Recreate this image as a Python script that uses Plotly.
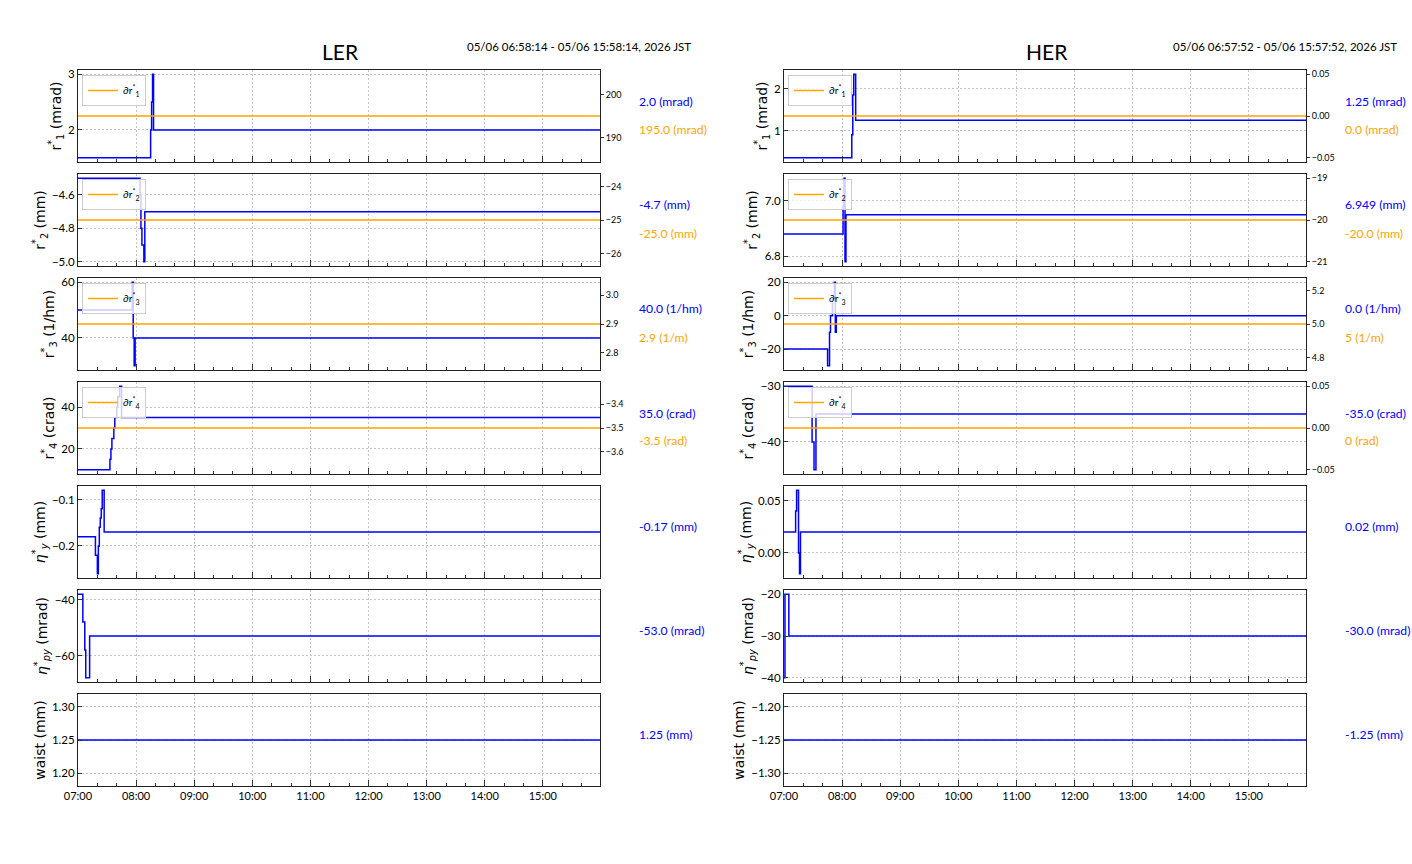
import plotly.graph_objects as go

W, H = 1412, 864
DAY = "2026-05-06 "
X_START, X_END = "07:00", "15:59"

# ---------------- LER data ----------------
ler_r1_t = ["07:00", "08:15", "08:16", "08:17", "08:18", "15:59"]
ler_r1_v = [1.5, 2.0, 2.5, 3.0, 2.0, 2.0]
ler_r2_t = ["07:00", "08:04", "08:05", "08:06", "08:08", "08:09", "15:59"]
ler_r2_v = [-4.5, -4.6, -4.8, -4.9, -5.0, -4.7, -4.7]
ler_r3_t = ["07:00", "07:56", "07:57", "07:58", "07:59", "15:59"]
ler_r3_v = [50, 60, 40, 30, 40, 40]
ler_r4_t = ["07:00", "07:33", "07:34", "07:35", "07:37", "07:38", "07:40", "07:41", "07:43", "07:45", "15:59"]
ler_r4_v = [10, 15, 20, 25, 30, 35, 40, 45, 50, 35, 35]
ler_ny_t = ["07:00", "07:18", "07:20", "07:21", "07:22", "07:23", "07:24", "07:25", "07:27", "15:59"]
ler_ny_v = [-0.18, -0.22, -0.26, -0.20, -0.16, -0.14, -0.12, -0.08, -0.17, -0.17]
ler_npy_t = ["07:00", "07:05", "07:07", "07:08", "07:12", "15:59"]
ler_npy_v = [-38, -48, -58, -68, -53, -53]
ler_waist_t = ["07:00", "15:59"]
ler_waist_v = [1.25, 1.25]
ler_dr = [195.0, -25.0, 2.9, -3.5]          # orange reference values (right axis)
ler_cur_labels = ["2.0 (mrad)", "-4.7 (mm)", "40.0 (1/hm)", "35.0 (crad)",
                  "-0.17 (mm)", "-53.0 (mrad)", "1.25 (mm)"]
ler_dr_labels = ["195.0 (mrad)", "-25.0 (mm)", "2.9 (1/m)", "-3.5 (rad)"]
ler_period = "05/06 06:58:14 - 05/06 15:58:14, 2026 JST"

# ---------------- HER data ----------------
her_r1_t = ["07:00", "08:10", "08:11", "08:12", "08:14", "15:59"]
her_r1_v = [0.35, 0.9, 1.85, 2.35, 1.25, 1.25]
her_r2_t = ["07:00", "08:01", "08:02", "08:03", "08:04", "15:59"]
her_r2_v = [6.88, 6.98, 7.08, 6.78, 6.949, 6.949]
her_r3_t = ["07:00", "07:45", "07:47", "07:48", "07:50", "07:52", "07:53", "07:54", "15:59"]
her_r3_v = [-20, -30, -10, 0, 10, 20, -10, 0, 0]
her_r4_t = ["07:00", "07:29", "07:31", "07:33", "15:59"]
her_r4_v = [-30, -40, -45, -35, -35]
her_ny_t = ["07:00", "07:12", "07:13", "07:15", "07:16", "07:17", "15:59"]
her_ny_v = [0.02, 0.04, 0.06, 0.0, -0.02, 0.02, 0.02]
her_npy_t = ["07:00", "07:01", "07:05", "15:59"]
her_npy_v = [-40, -20, -30, -30]
her_waist_t = ["07:00", "15:59"]
her_waist_v = [-1.25, -1.25]
her_dr = [0.0, -20.0, 5.0, 0.0]
her_cur_labels = ["1.25 (mrad)", "6.949 (mm)", "0.0 (1/hm)", "-35.0 (crad)",
                  "0.02 (mm)", "-30.0 (mrad)", "-1.25 (mm)"]
her_dr_labels = ["0.0 (mrad)", "-20.0 (mm)", "5 (1/m)", "0 (rad)"]
her_period = "05/06 06:57:52 - 05/06 15:57:52, 2026 JST"

legend_labels = ["∂r<sup>*</sup><sub>1</sub>", "∂r<sup>*</sup><sub>2</sub>",
                 "∂r<sup>*</sup><sub>3</sub>", "∂r<sup>*</sup><sub>4</sub>"]
y_titles = ["r<sup>*</sup><sub>1</sub> (mrad)", "r<sup>*</sup><sub>2</sub> (mm)",
            "r<sup>*</sup><sub>3</sub> (1/hm)", "r<sup>*</sup><sub>4</sub> (crad)",
            "<i>η</i><sup>*</sup><sub><i>y</i></sub> (mm)",
            "<i>η</i><sup>*</sup><sub><i>py</i></sub> (mrad)", "waist (mm)"]

# ---------------- styles ----------------
BLUE = "#0000ff"
ORANGE = "#ffa500"
COND = "Liberation Sans Narrow, Arial Narrow, Lato, sans-serif"
NORMAL = "DejaVu Sans"
GRID = "#c4c4c4"
rings = [
    dict(name="LER", period=ler_period,
         series=[(ler_r1_t, ler_r1_v), (ler_r2_t, ler_r2_v), (ler_r3_t, ler_r3_v),
                 (ler_r4_t, ler_r4_v), (ler_ny_t, ler_ny_v), (ler_npy_t, ler_npy_v),
                 (ler_waist_t, ler_waist_v)],
         dr=ler_dr, cur=ler_cur_labels, drl=ler_dr_labels,
         x0=78, x1=600, title_x=340, period_x=693, text_x=637,
         dtick=[1, 0.2, 20, 20, 0.1, 20, 0.05],
         fmt=[".0f", ".1f", ".0f", ".0f", ".1f", ".0f", ".2f"],
         rdtick=[10, 1, 0.1, 0.1], rfmt=[".0f", ".0f", ".1f", ".1f"]),
    dict(name="HER", period=her_period,
         series=[(her_r1_t, her_r1_v), (her_r2_t, her_r2_v), (her_r3_t, her_r3_v),
                 (her_r4_t, her_r4_v), (her_ny_t, her_ny_v), (her_npy_t, her_npy_v),
                 (her_waist_t, her_waist_v)],
         dr=her_dr, cur=her_cur_labels, drl=her_dr_labels,
         x0=784, x1=1306, title_x=1047, period_x=1399, text_x=1343,
         dtick=[1, 0.2, 20, 10, 0.05, 10, 0.05],
         fmt=[".0f", ".1f", ".0f", ".0f", ".2f", ".0f", ".2f"],
         rdtick=[0.05, 1, 0.2, 0.05], rfmt=[".2f", ".0f", ".1f", ".2f"]),
]


def ts(lst):
    return [DAY + t for t in lst]


def mpl_range(vals):
    lo, hi = min(vals), max(vals)
    if hi - lo < 1e-12:
        if lo == 0:
            lo, hi = -0.05, 0.05
        else:
            lo, hi = lo - 0.05 * abs(lo), hi + 0.05 * abs(hi)
    m = 0.05 * (hi - lo)
    return [lo - m, hi + m]


def ax_id(prefix, k):
    return prefix if k == 1 else f"{prefix}{k}"


fig = go.Figure()
layout = dict(width=W, height=H, margin=dict(l=0, r=0, t=0, b=0, autoexpand=False),
              paper_bgcolor="white", plot_bgcolor="white", showlegend=True,
              hovermode=False)
annotations = []
sec_k = 15
leg_n = 1
for r, ring in enumerate(rings):
    annotations.append(dict(text=ring["name"], x=ring["title_x"] / W, y=1 - 51 / H,
                            xref="paper", yref="paper", xanchor="center", yanchor="middle",
                            showarrow=False, font=dict(family=COND, size=21, color="black")))
    annotations.append(dict(text=ring["period"], x=ring["period_x"] / W, y=1 - 47 / H,
                            xref="paper", yref="paper", xanchor="right", yanchor="middle",
                            showarrow=False, font=dict(family=COND, size=11.5, color="black")))
    for i in range(7):
        k = r * 7 + i + 1
        top = 70 + 104 * i
        bot = top + 92
        xd = [ring["x0"] / W, ring["x1"] / W]
        yd = [1 - bot / H, 1 - top / H]
        t, v = ring["series"][i]
        xname, yname = ax_id("x", k), ax_id("y", k)
        fig.add_trace(go.Scatter(x=ts(t), y=v, mode="lines", line=dict(color=BLUE, width=1.5, shape="hv"),
                                 xaxis=xname, yaxis=yname, showlegend=False))
        bottom = (i == 6)
        layout[ax_id("xaxis", k)] = dict(
            domain=xd, anchor=yname, type="date", automargin=False,
            range=[DAY + X_START, DAY + X_END],
            tick0=DAY + "07:00", dtick=3600000, tickformat="%H:%M",
            showticklabels=bottom, ticks="inside", ticklen=6, tickcolor="#333",
            minor=dict(dtick=1200000, ticks="inside", ticklen=3, tickcolor="#333", showgrid=False),
            showgrid=True, gridcolor=GRID, griddash="2px,2px", gridwidth=1,
            showline=True, linecolor="#222", linewidth=1, mirror=True,
            tickfont=dict(family=COND, size=11, color="black"), zeroline=False)
        layout[ax_id("yaxis", k)] = dict(
            domain=yd, anchor=xname, range=mpl_range(v), automargin=False,
            dtick=ring["dtick"][i], tick0=0, tickformat=ring["fmt"][i],
            ticks="inside", ticklen=4, tickcolor="#333",
            showgrid=True, gridcolor=GRID, griddash="2px,2px", gridwidth=1,
            showline=True, linecolor="#222", linewidth=1, mirror=True, zeroline=False,
            tickfont=dict(family=COND, size=11.5, color="black"),
            title=dict(text=y_titles[i], font=dict(family=NORMAL, size=14, color="black"), standoff=3))
        if i < 4:
            dv = ring["dr"][i]
            yname2 = f"y{sec_k}"
            legname = "legend" if leg_n == 1 else f"legend{leg_n}"
            fig.add_trace(go.Scatter(x=ts([X_START, X_END]), y=[dv, dv], mode="lines",
                                     line=dict(color=ORANGE, width=1.5), name=legend_labels[i],
                                     xaxis=xname, yaxis=yname2, legend=legname, showlegend=True))
            layout[f"yaxis{sec_k}"] = dict(
                overlaying=yname, anchor=xname, side="right", range=mpl_range([dv]),
                automargin=False,
                dtick=ring["rdtick"][i], tick0=0, tickformat=ring["rfmt"][i],
                ticks="outside", ticklen=3, tickcolor="#333", showgrid=False, zeroline=False,
                showline=False, tickfont=dict(family=COND, size=9, color="black"))
            layout[legname] = dict(
                x=(ring["x0"] + 4) / W, y=1 - (top + 5) / H, xanchor="left", yanchor="top",
                xref="paper", yref="paper",
                bgcolor="rgba(255,255,255,0.8)", bordercolor="#cccccc", borderwidth=1,
                font=dict(family=COND, size=10, color="black"), itemwidth=30,
                tracegroupgap=0)
            sec_k += 1
            leg_n += 1
            annotations.append(dict(text=ring["cur"][i], x=ring["text_x"] / W, y=1 - (top + 31) / H,
                                    xref="paper", yref="paper", xanchor="left", yanchor="middle",
                                    showarrow=False, font=dict(family=COND, size=12.2, color=BLUE)))
            annotations.append(dict(text=ring["drl"][i], x=ring["text_x"] / W, y=1 - (top + 59) / H,
                                    xref="paper", yref="paper", xanchor="left", yanchor="middle",
                                    showarrow=False, font=dict(family=COND, size=12.2, color=ORANGE)))
        else:
            annotations.append(dict(text=ring["cur"][i], x=ring["text_x"] / W, y=1 - (top + 40) / H,
                                    xref="paper", yref="paper", xanchor="left", yanchor="middle",
                                    showarrow=False, font=dict(family=COND, size=12.2, color=BLUE)))

layout["annotations"] = annotations
fig.update_layout(**layout)
fig.write_html("out.html")
